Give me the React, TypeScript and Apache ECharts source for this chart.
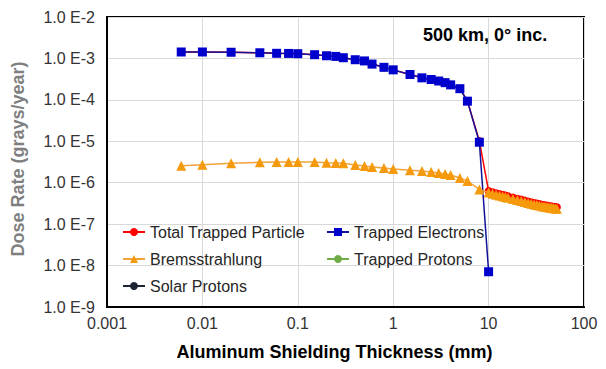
import React, { useEffect, useRef } from "react";
import * as echarts from "echarts";

const thickness = [0.006, 0.01, 0.02, 0.04, 0.06, 0.08, 0.1, 0.15, 0.2, 0.25, 0.3, 0.4, 0.5, 0.6, 0.8, 1, 1.5, 2, 2.5, 3, 3.5, 4, 5, 6, 8];
const tailThickness = [10, 11, 12, 13, 14, 15, 16, 18, 20, 22, 24, 26, 28, 30, 32, 34, 36, 38, 40, 42, 44, 46, 48, 50, 52];

const electrons = [1.43e-3, 1.43e-3, 1.41e-3, 1.37e-3, 1.33e-3, 1.32e-3, 1.3e-3, 1.23e-3, 1.16e-3, 1.12e-3, 1.04e-3, 9.3e-4, 8.7e-4, 7.3e-4, 6.1e-4, 5.3e-4, 4.1e-4, 3.4e-4, 3.1e-4, 2.85e-4, 2.6e-4, 2.3e-4, 1.86e-4, 9.3e-5, 9.5e-6];
const electronsAt10 = 7.1e-9;

const totalMain = [1.43e-3, 1.43e-3, 1.41e-3, 1.37e-3, 1.33e-3, 1.32e-3, 1.3e-3, 1.23e-3, 1.16e-3, 1.12e-3, 1.04e-3, 9.3e-4, 8.7e-4, 7.3e-4, 6.1e-4, 5.3e-4, 4.1e-4, 3.4e-4, 3.1e-4, 2.85e-4, 2.6e-4, 2.3e-4, 1.86e-4, 9.4e-5, 1.02e-5];
const totalTail = [6.3e-7, 5.9e-7, 5.55e-7, 5.3e-7, 5.1e-7, 4.9e-7, 4.7e-7, 4.4e-7, 4.1e-7, 3.9e-7, 3.7e-7, 3.5e-7, 3.35e-7, 3.25e-7, 3.15e-7, 3.05e-7, 2.95e-7, 2.88e-7, 2.82e-7, 2.76e-7, 2.71e-7, 2.67e-7, 2.63e-7, 2.6e-7, 2.55e-7];

const bremsMain = [2.58e-6, 2.72e-6, 2.94e-6, 3.11e-6, 3.16e-6, 3.16e-6, 3.16e-6, 3.16e-6, 3.04e-6, 2.99e-6, 2.94e-6, 2.68e-6, 2.54e-6, 2.4e-6, 2.27e-6, 2.15e-6, 2.0e-6, 1.92e-6, 1.82e-6, 1.72e-6, 1.62e-6, 1.54e-6, 1.3e-6, 1.1e-6, 6.9e-7];
const bremsTail = [5.8e-7, 5.4e-7, 5.1e-7, 4.9e-7, 4.7e-7, 4.5e-7, 4.35e-7, 4.05e-7, 3.8e-7, 3.6e-7, 3.4e-7, 3.25e-7, 3.1e-7, 3.0e-7, 2.9e-7, 2.8e-7, 2.72e-7, 2.65e-7, 2.6e-7, 2.55e-7, 2.5e-7, 2.47e-7, 2.43e-7, 2.4e-7, 2.35e-7];

const trappedProtons: number[][] = [];
const solarProtons: number[][] = [];

const xTickLabels = ["0.001", "0.01", "0.1", "1", "10", "100"];
const yTickLabels = ["1.0 E-9", "1.0 E-8", "1.0 E-7", "1.0 E-6", "1.0 E-5", "1.0 E-4", "1.0 E-3", "1.0 E-2"];

const seriesNames = ["Total Trapped Particle", "Trapped Electrons", "Bremsstrahlung", "Trapped Protons", "Solar Protons"];
const titleText = "500 km, 0\u00b0 inc.";

const FONT = "'Liberation Sans', Arial, sans-serif";

export default function App() {
  const ref = useRef<HTMLDivElement>(null);
  useEffect(() => {
    if (!ref.current) return;
    const chart = echarts.init(ref.current, undefined, { renderer: "svg" });

    const totalData = thickness.map((x, i) => [x, totalMain[i]]).concat(tailThickness.map((x, i) => [x, totalTail[i]]));
    const elecData = thickness.map((x, i) => [x, electrons[i]]).concat([[10, electronsAt10]]);
    const bremsData = thickness.map((x, i) => [x, bremsMain[i]]).concat(tailThickness.map((x, i) => [x, bremsTail[i]]));

    const legendText = { fontFamily: FONT, fontSize: 16, color: "#262626" };

    chart.setOption({
      animation: false,
      backgroundColor: "#fff",
      title: {
        text: titleText,
        left: 418,
        top: 21,
        textStyle: { fontFamily: FONT, fontSize: 18, fontWeight: "bold", color: "#000" },
      },
      grid: {
        left: 107,
        top: 17,
        right: 22,
        bottom: 62,
        show: true,
        borderColor: "#000",
        borderWidth: 2,
        backgroundColor: "transparent",
      },
      legend: [
        {
          data: [seriesNames[0], seriesNames[2], seriesNames[4]],
          orient: "vertical",
          left: 117,
          top: 219,
          itemWidth: 22,
          itemHeight: 10,
          itemGap: 11,
          textStyle: legendText,
        },
        {
          data: [seriesNames[1], seriesNames[3]],
          orient: "vertical",
          left: 321,
          top: 219,
          itemWidth: 22,
          itemHeight: 10,
          itemGap: 11,
          textStyle: legendText,
        },
      ],
      xAxis: {
        type: "log",
        logBase: 10,
        min: 0.001,
        max: 100,
        splitNumber: 5,
        name: "Aluminum Shielding Thickness (mm)",
        nameLocation: "middle",
        nameGap: 36,
        nameTextStyle: { fontFamily: FONT, fontSize: 18, fontWeight: "bold", color: "#000", padding: [0, 22, 0, 0] },
        axisLine: { show: true, lineStyle: { color: "#000", width: 2 } },
        axisTick: { show: false },
        axisLabel: {
          fontFamily: FONT,
          fontSize: 16,
          color: "#333",
          margin: 8,
          formatter: (v: number) => xTickLabels[Math.round(Math.log10(v)) + 3] ?? "",
        },
        splitLine: { show: true, lineStyle: { color: "#d9d9d9", width: 1 } },
        minorTick: { show: false },
      },
      yAxis: {
        type: "log",
        logBase: 10,
        min: 1e-9,
        max: 1e-2,
        splitNumber: 7,
        name: "Dose Rate (grays/year)",
        nameLocation: "middle",
        nameGap: 80,
        nameRotate: 90,
        nameTextStyle: { fontFamily: FONT, fontSize: 18, fontWeight: "bold", color: "#7f7f7f", padding: [0, 0, 0, 6] },
        axisLine: { show: true, lineStyle: { color: "#000", width: 2 } },
        axisTick: { show: false },
        axisLabel: {
          fontFamily: FONT,
          fontSize: 16,
          color: "#333",
          margin: 12,
          formatter: (v: number) => yTickLabels[Math.round(Math.log10(v)) + 9] ?? "",
        },
        splitLine: { show: true, lineStyle: { color: "#d9d9d9", width: 1 } },
      },
      series: [
        {
          name: seriesNames[0],
          type: "line",
          data: totalData,
          symbol: "circle",
          symbolSize: 8,
          itemStyle: { color: "#ff0000" },
          lineStyle: { color: "#ff0000", width: 1.5 },
          z: 2,
        },
        {
          name: seriesNames[1],
          type: "line",
          data: elecData,
          symbol: "rect",
          symbolSize: 9,
          itemStyle: { color: "#0000cc" },
          lineStyle: { color: "#12129a", width: 1.5 },
          z: 3,
        },
        {
          name: seriesNames[2],
          type: "line",
          data: bremsData,
          symbol: "triangle",
          symbolSize: 10,
          itemStyle: { color: "#f59a0c" },
          lineStyle: { color: "#f2a23a", width: 1.5 },
          z: 4,
        },
        {
          name: seriesNames[3],
          type: "line",
          data: trappedProtons,
          symbol: "circle",
          symbolSize: 5,
          itemStyle: { color: "#70ad47" },
          lineStyle: { color: "#70ad47", width: 1.5 },
        },
        {
          name: seriesNames[4],
          type: "line",
          data: solarProtons,
          symbol: "circle",
          symbolSize: 5,
          itemStyle: { color: "#1c2433" },
          lineStyle: { color: "#1c2433", width: 1.5 },
        },
      ],
    });
    return () => chart.dispose();
  }, []);
  return (
    <div
      ref={ref}
      style={{ position: "fixed", left: 0, top: 0, width: 606, height: 369, background: "#fff" }}
    />
  );
}
